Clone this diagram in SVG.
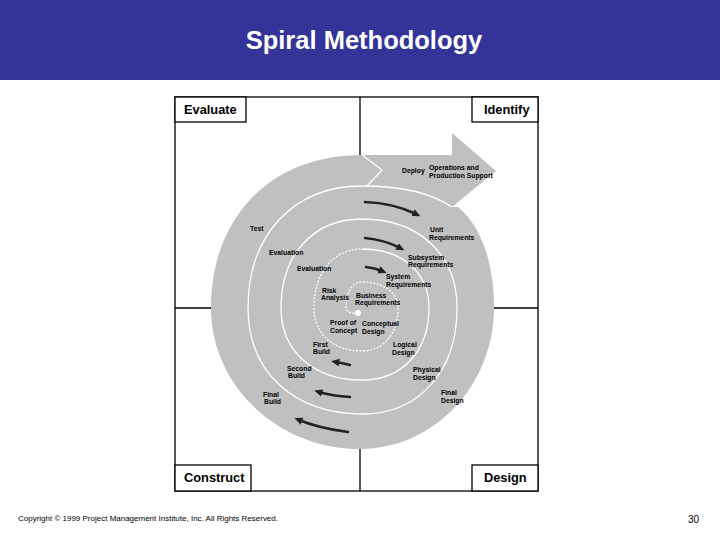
<svg xmlns="http://www.w3.org/2000/svg" width="720" height="540" viewBox="0 0 720 540">
<defs>
<style>
.frame{fill:none;stroke:#000;stroke-width:1.3}
.box{fill:#fff;stroke:#000;stroke-width:1.3}
.quad{font-family:"Liberation Sans",Arial,sans-serif;font-size:12.8px;font-weight:bold;fill:#000}
.lbl{font-family:"Liberation Sans",Arial,sans-serif;font-size:6.8px;font-weight:bold;fill:#000}
.wl{fill:none;stroke:#fff;stroke-width:1.3}
.conn{fill:none;stroke:#222;stroke-width:2.6;stroke-linecap:round}
</style>
<marker id="ah" viewBox="0 0 10 10" refX="4" refY="5" markerWidth="3.2" markerHeight="3.2" orient="auto" markerUnits="strokeWidth">
<path d="M0,0.5 L10,5 L0,9.5 z" fill="#222"/>
</marker>
</defs>
<rect x="0" y="0" width="720" height="540" fill="#fff"/>
<g id="header">
<rect x="0" y="0" width="720" height="80" fill="#333399"/>
<text x="364" y="49" text-anchor="middle" font-family="'Liberation Sans',Arial,sans-serif" font-size="25.5" font-weight="bold" fill="#fff">Spiral Methodology</text>
</g>
<g id="frame">
<rect class="frame" x="175" y="97" width="363" height="394"/>
<line class="frame" x1="360" y1="97" x2="360" y2="156"/>
<line class="frame" x1="360" y1="448" x2="360" y2="491"/>
<line class="frame" x1="175" y1="308" x2="212" y2="308"/>
<line class="frame" x1="493" y1="308" x2="538" y2="308"/>
</g>
<g id="spiral">
<path fill="#c0c0c0" d="M362,155 L452,155 L452,133 L496,171 L452,207 L458,207 C480,225 494,260 494,308 C494,385.6 433.7,449 360,449 C278,449 211,385.6 211,308 C211,216.2 271.4,155 362,155 Z"/>
<path class="wl" stroke-width="1.1" stroke-dasharray="2 1.5" d="M358,313 C352,314 346,312 346,308 C346,292.4 352.4,282 362,282 C383.6,282 398,292.4 398,308 C398,333.8 383.6,351 362,351 C333.2,351 314,333.8 314,308 C314,272.6 333.2,249 362,249"/>
<path class="wl" d="M362,249 C402.2,249 429,272.6 429,308 C429,351.2 402.2,380 362,380 C313.4,380 281,351.2 281,308 C281,254.6 313.4,219 362,219 C419,219 457,254.6 457,308 C457,371.6 419,414 362,414 C293.6,414 248,371.6 248,308 C248,234.8 293.6,186 362,186 C400,186 430,192 452,207"/>
<path class="wl" stroke-width="1.5" d="M362,155 L382,170 L367,186"/>
<circle cx="358" cy="313" r="3" fill="#fff"/>
</g>
<g id="connectors">
<path class="conn" marker-end="url(#ah)" d="M365,202 Q393,203 416,214"/>
<path class="conn" marker-end="url(#ah)" d="M365,238 Q385,240 400,248"/>
<path class="conn" marker-end="url(#ah)" d="M366,267 Q375,268 382,271"/>
<path class="conn" marker-end="url(#ah)" d="M350,365 Q342,363 336,362"/>
<path class="conn" marker-end="url(#ah)" d="M350,397 Q332,396 319,392"/>
<path class="conn" marker-end="url(#ah)" d="M348,432 Q318,428 299,420"/>
</g>
<g id="evaluate"><rect class="box" x="175" y="97" width="71" height="25"/><text class="quad" x="184" y="114">Evaluate</text></g>
<g id="identify"><rect class="box" x="472" y="97" width="66" height="25"/><text class="quad" x="484" y="114">Identify</text></g>
<g id="construct"><rect class="box" x="175" y="465" width="76" height="26"/><text class="quad" x="184" y="482">Construct</text></g>
<g id="design"><rect class="box" x="472" y="465" width="66" height="26"/><text class="quad" x="484" y="482">Design</text></g>
<g id="labels">
<text class="lbl" x="402" y="173">Deploy</text>
<text class="lbl" x="429" y="170">Operations and</text>
<text class="lbl" x="429" y="177.5">Production Support</text>
<text class="lbl" x="250" y="231">Test</text>
<text class="lbl" x="430" y="232">Unit</text>
<text class="lbl" x="429" y="240">Requirements</text>
<text class="lbl" x="269" y="255">Evaluation</text>
<text class="lbl" x="297" y="271">Evaluation</text>
<text class="lbl" x="408" y="260">Subsystem</text>
<text class="lbl" x="408" y="267">Requirements</text>
<text class="lbl" x="386" y="279">System</text>
<text class="lbl" x="386" y="287">Requirements</text>
<text class="lbl" x="322" y="293">Risk</text>
<text class="lbl" x="321" y="300">Analysis</text>
<text class="lbl" x="356" y="298">Business</text>
<text class="lbl" x="355" y="305">Requirements</text>
<text class="lbl" x="330" y="325">Proof of</text>
<text class="lbl" x="330" y="333">Concept</text>
<text class="lbl" x="362" y="326">Conceptual</text>
<text class="lbl" x="362" y="334">Design</text>
<text class="lbl" x="313" y="347">First</text>
<text class="lbl" x="313" y="354">Build</text>
<text class="lbl" x="393" y="347">Logical</text>
<text class="lbl" x="392" y="355">Design</text>
<text class="lbl" x="287" y="371">Second</text>
<text class="lbl" x="288" y="378">Build</text>
<text class="lbl" x="413" y="372">Physical</text>
<text class="lbl" x="413" y="380">Design</text>
<text class="lbl" x="263" y="397">Final</text>
<text class="lbl" x="264" y="404">Build</text>
<text class="lbl" x="441" y="395">Final</text>
<text class="lbl" x="441" y="403">Design</text>
</g>
<g id="footer">
<text x="18" y="521" font-family="'Liberation Sans',Arial,sans-serif" font-size="7.2" fill="#000" textLength="260" lengthAdjust="spacingAndGlyphs">Copyright © 1999 Project Management Institute, Inc. All Rights Reserved.</text>
<text x="688" y="523" font-family="'Liberation Sans',Arial,sans-serif" font-size="10" fill="#000">30</text>
</g>
</svg>
